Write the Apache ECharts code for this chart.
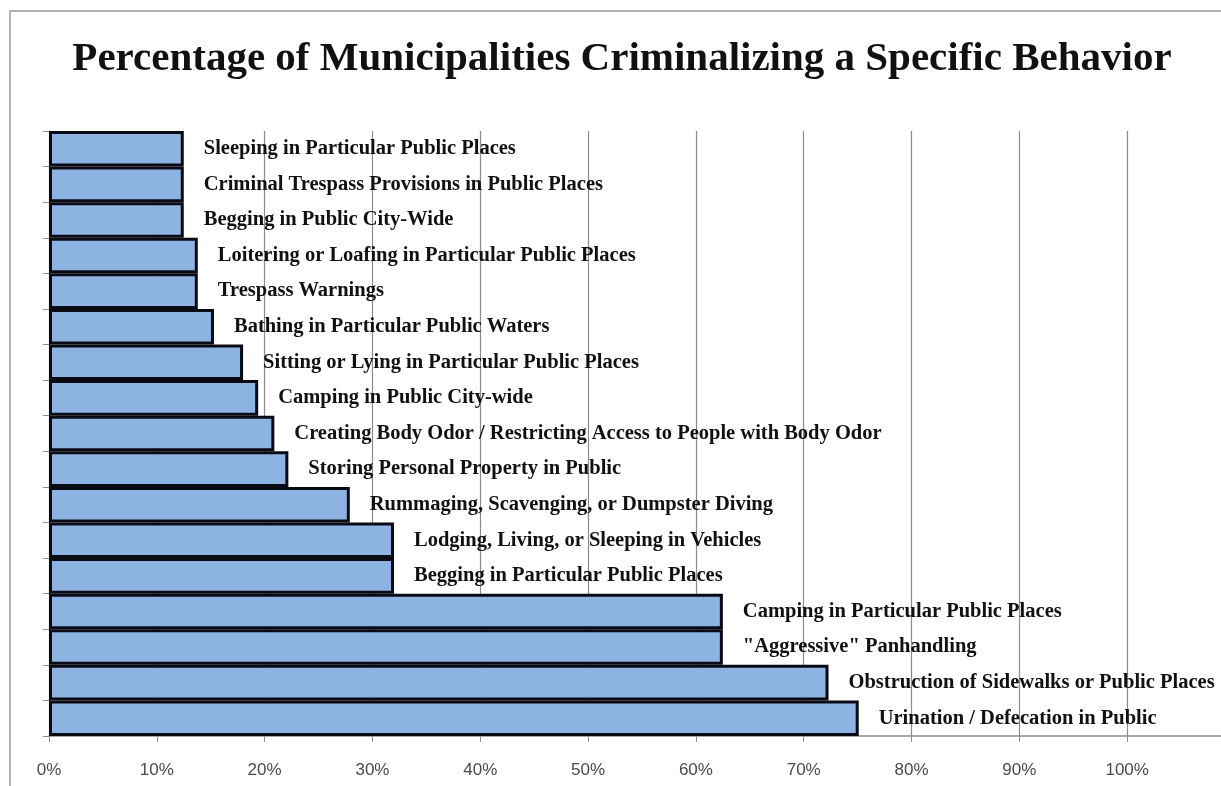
<!DOCTYPE html>
<html>
<head>
<meta charset="utf-8">
<script src="https://cdn.jsdelivr.net/npm/echarts@6/dist/echarts.min.js"></script>
<style>
  html, body { margin: 0; padding: 0; background: #fff; }
  #chart { width: 1221px; height: 786px; }
</style>
</head>
<body>
<div id="chart"></div>
<script>
// categories, top to bottom
const behaviors = [
  'Sleeping in Particular Public Places',
  'Criminal Trespass Provisions in Public Places',
  'Begging in Public City-Wide',
  'Loitering or Loafing in Particular Public Places',
  'Trespass Warnings',
  'Bathing in Particular Public Waters',
  'Sitting or Lying in Particular Public Places',
  'Camping in Public City-wide',
  'Creating Body Odor / Restricting Access to People with Body Odor',
  'Storing Personal Property in Public',
  'Rummaging, Scavenging, or Dumpster Diving',
  'Lodging, Living, or Sleeping in Vehicles',
  'Begging in Particular Public Places',
  'Camping in Particular Public Places',
  '"Aggressive" Panhandling',
  'Obstruction of Sidewalks or Public Places',
  'Urination / Defecation in Public'
]
// percent of municipalities
const percents = [12.5, 12.5, 12.5, 13.8, 13.8, 15.3, 18.0, 19.4, 20.9, 22.2, 27.9, 32.0, 32.0, 62.5, 62.5, 72.3, 75.1]

const chart = echarts.init(document.getElementById('chart'))

chart.setOption({
  animation: false,
  title: {
    text: 'Percentage of Municipalities Criminalizing a Specific Behavior',
    left: 617,
    textAlign: 'center',
    top: 34,
    textStyle: {
      fontFamily: 'Liberation Serif',
      fontWeight: 'bold',
      fontSize: 41,
      color: '#111'
    }
  },
  graphic: [{
    type: 'rect',
    shape: { x: 10, y: 11, width: 1400, height: 900 },
    style: { fill: 'none', stroke: '#9a9a9a', lineWidth: 1.5 },
    silent: true
  }],
  grid: {
    left: 49,
    right: -14,
    top: 131,
    bottom: 50,
    outerBoundsMode: 'none'
  },
  xAxis: {
    type: 'value',
    min: 0,
    max: 110,
    interval: 10,
    axisLine: { show: true, lineStyle: { color: '#8c8c8c', width: 1.5 } },
    axisTick: { show: true, length: 6, lineStyle: { color: '#8c8c8c' } },
    axisLabel: {
      formatter: v => (v > 100 ? '' : v + '%'),
      margin: 26,
      fontFamily: 'Liberation Sans',
      fontSize: 17,
      color: '#4a4a4a'
    },
    splitLine: { show: true, lineStyle: { color: '#8c8c8c', width: 1.2 } }
  },
  yAxis: {
    type: 'category',
    inverse: true,
    data: behaviors,
    axisLine: { show: true, lineStyle: { color: '#8c8c8c' } },
    axisTick: { show: true, length: 6, inside: false, lineStyle: { color: '#8c8c8c' } },
    axisLabel: { show: false }
  },
  series: [{
    type: 'bar',
    data: percents,
    barWidth: '100%',
    itemStyle: {
      color: '#8db3e2',
      borderColor: '#0a0a14',
      borderWidth: 3
    },
    label: {
      show: true,
      position: 'right',
      distance: 20,
      formatter: p => behaviors[p.dataIndex],
      fontFamily: 'Liberation Serif',
      fontWeight: 'bold',
      fontSize: 20.5,
      color: '#111'
    }
  }]
})
</script>
</body>
</html>
